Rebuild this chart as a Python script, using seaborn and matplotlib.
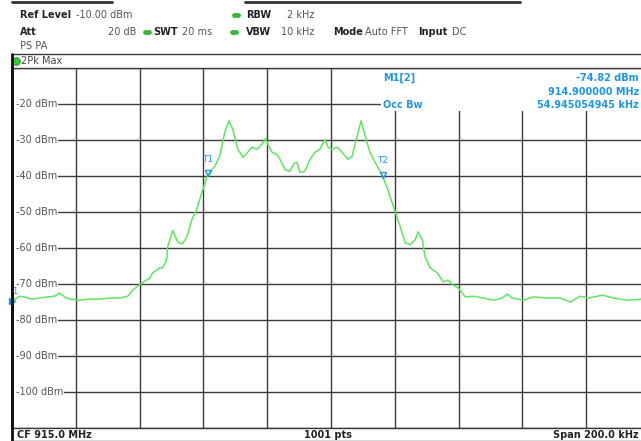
import matplotlib
matplotlib.use("Agg")
import matplotlib.pyplot as plt
import seaborn as sns
import pandas as pd
from matplotlib.lines import Line2D
from matplotlib.patches import Rectangle

# ---- data (frequency offset from CF 915.0 MHz in kHz, level in dBm) ----
offset_khz = [-100.0, -97.7, -96.1, -93.9, -91.4, -88.9, -86.7, -85.1, -83.5, -82.0,
              -78.8, -75.7, -72.5, -69.4, -66.3, -63.7, -62.2, -59.7, -56.8, -55.9,
              -53.7, -52.8, -51.5, -51.2, -49.6, -48.0, -46.5, -45.2, -43.6, -42.1,
              -40.5, -38.6, -36.4, -34.9, -33.3, -32.0, -30.8, -29.2, -27.6, -26.1,
              -24.8, -23.2, -21.7, -20.4, -19.8, -18.5, -17.0, -16.0, -14.4, -12.9,
              -11.6, -10.7, -9.7, -8.2, -6.6, -5.0, -3.5, -1.9, -0.9, 0.3,
              1.9, 3.5, 5.3, 6.6, 8.2, 9.4, 10.7, 12.2, 13.8, 15.4,
              16.3, 17.6, 18.5, 20.1, 21.7, 23.2, 24.8, 26.4, 27.3, 28.6,
              29.5, 31.1, 33.3, 35.2, 36.7, 38.3, 39.9, 42.1, 44.6, 47.7,
              50.9, 53.7, 55.3, 56.8, 60.3, 63.4, 67.8, 71.9, 75.0, 78.2,
              80.7, 85.1, 88.5, 92.9, 97.3, 100.0]
level_dbm = [-74.8, -73.4, -73.6, -74.2, -73.9, -73.6, -73.4, -72.5, -73.6, -74.2,
             -74.5, -74.2, -74.2, -73.9, -73.9, -73.4, -71.7, -70.0, -68.3, -66.9,
             -65.5, -65.5, -63.3, -59.6, -55.2, -58.5, -58.8, -56.9, -52.1, -49.3,
             -44.6, -39.6, -37.3, -34.5, -27.8, -24.7, -27.0, -32.6, -34.8, -33.4,
             -32.0, -32.6, -31.2, -29.5, -31.2, -33.4, -34.0, -35.4, -38.2, -38.7,
             -36.5, -36.2, -39.0, -38.7, -35.4, -33.4, -32.6, -29.8, -32.0, -32.6,
             -32.0, -33.4, -35.4, -34.5, -28.9, -24.7, -28.9, -33.4, -36.2, -38.7,
             -40.4, -43.2, -45.7, -49.9, -54.1, -58.5, -59.1, -57.7, -55.5, -57.7,
             -62.5, -65.5, -66.9, -69.4, -68.9, -70.3, -71.1, -73.6, -73.4, -73.9,
             -74.5, -73.9, -72.8, -73.9, -74.5, -73.6, -73.9, -73.9, -75.0, -73.4,
             -73.9, -73.1, -73.9, -74.5, -74.2, -73.9]

y_levels = [-20, -30, -40, -50, -60, -70, -80, -90, -100]
y_labels = ["-20 dBm", "-30 dBm", "-40 dBm", "-50 dBm", "-60 dBm",
            "-70 dBm", "-80 dBm", "-90 dBm", "-100 dBm"]
x_grid_khz = [-80, -60, -40, -20, 0, 20, 40, 60, 80]

t_khz = [-38.6, 16.3]
t_dbm = [-39.3, -39.6]
t_names = ["T1", "T2"]
m1_khz = -100.0
m1_dbm = -74.82

sns.set_style("white")
plt.rcParams["font.family"] = ["DejaVu Sans"]

W, H = 641, 441
fig = plt.figure(figsize=(W / 100, H / 100), dpi=100)
fig.patch.set_facecolor("white")


def fx(x):
    return x / W


def fy(y):
    return 1 - y / H


GRID = "#3a3a3a"
BLUE = "#2196e0"
GREEN = "#5ee65e"
TXT = "#444444"
FS = 7

# ---- main axes ----
AX_L, AX_R, AX_T, AX_B = 12, 650, 68, 428
ax = fig.add_axes([fx(AX_L), fy(AX_B), (AX_R - AX_L) / W, (AX_B - AX_T) / H])
ax.set_xlim(-100, 100)
ax.set_ylim(-110, -10)
ax.set_xticks([])
ax.set_yticks([])
ax.set_facecolor("white")
ax.spines["right"].set_visible(False)
ax.spines["left"].set_linewidth(2.0)
ax.spines["left"].set_color("#111111")
ax.spines["top"].set_color(GRID)
ax.spines["top"].set_linewidth(1.0)
ax.spines["bottom"].set_color(GRID)
ax.spines["bottom"].set_linewidth(1.0)

for xv in x_grid_khz:
    ax.axvline(xv, color=GRID, lw=1.0, zorder=1)

ytrans = ax.get_yaxis_transform()
label_objs = []
for yv, lab in zip(y_levels, y_labels):
    t = ax.text(0.006, yv, lab, transform=ytrans, ha="left", va="center",
                fontsize=FS, color="#555555", zorder=3)
    label_objs.append(t)

fig.canvas.draw()
renderer = fig.canvas.get_renderer()
axbb = ax.get_window_extent(renderer)
for yv, t in zip(y_levels, label_objs):
    bb = t.get_window_extent(renderer)
    xmin = (bb.x1 + 1 - axbb.x0) / axbb.width
    xmax = (380 - AX_L) / (AX_R - AX_L) if yv == -20 else 1.0
    ax.axhline(yv, xmin=xmin, xmax=xmax, color=GRID, lw=1.0, zorder=1)

# blank marker-info box that hides the grid in the upper right
ax.add_patch(Rectangle(((381 - AX_L) / (AX_R - AX_L), (AX_B - 111) / (AX_B - AX_T)),
                       (AX_R - 381) / (AX_R - AX_L), (111 - AX_T - 1) / (AX_B - AX_T),
                       transform=ax.transAxes, facecolor="white",
                       edgecolor="none", zorder=2))

# ---- trace ----
df = pd.DataFrame({"offset_khz": offset_khz, "level_dbm": level_dbm})
sns.lineplot(data=df, x="offset_khz", y="level_dbm", ax=ax, color=GREEN,
             lw=1.1, sort=False, estimator=None, legend=False, zorder=4)
ax.set_xlabel("")
ax.set_ylabel("")

# ---- markers ----
for k, d, n in zip(t_khz, t_dbm, t_names):
    ax.plot([k], [d], marker="v", ms=5, mfc="none", mec=BLUE, mew=1.0,
            ls="none", zorder=5)
    ax.annotate(n, (k, d), xytext=(0, 7), textcoords="offset points",
                ha="center", va="bottom", fontsize=6.5, color=BLUE, zorder=5)
ax.plot([m1_khz], [m1_dbm], marker=">", ms=4.5, color=BLUE, ls="none",
        zorder=5, clip_on=False)
ax.annotate("1", (m1_khz, m1_dbm), xytext=(2, 4), textcoords="offset points",
            ha="center", va="bottom", fontsize=6, color=BLUE, zorder=5)

# marker info (blue, at the right figure edge)
fig.text(fx(383), fy(78), "M1[2]", color=BLUE, fontsize=FS, fontweight="bold",
         va="center", ha="left")
fig.text(fx(639), fy(78), "-74.82 dBm", color=BLUE, fontsize=FS,
         fontweight="bold", va="center", ha="right")
fig.text(fx(639), fy(92), "914.900000 MHz", color=BLUE, fontsize=FS,
         fontweight="bold", va="center", ha="right")
fig.text(fx(383), fy(105), "Occ Bw", color=BLUE, fontsize=FS,
         fontweight="bold", va="center", ha="left")
fig.text(fx(639), fy(105), "54.945054945 kHz", color=BLUE, fontsize=FS,
         fontweight="bold", va="center", ha="right")

# ---- title bar ----
fig.add_artist(Rectangle((fx(12), fy(68)), (645 - 12) / W, (68 - 54) / H,
                         transform=fig.transFigure, facecolor="white",
                         edgecolor=GRID, lw=1.0))
fig.add_artist(Line2D([fx(16)], [fy(61)], marker="o", ms=5.5,
                      mfc="#33cc33", mec="#1a8a1a", mew=0.6,
                      transform=fig.transFigure))
fig.text(fx(21), fy(61), "2Pk Max", fontsize=FS, color=TXT, va="center")

# ---- bottom bar ----
fig.add_artist(Rectangle((fx(12), fy(441)), (645 - 12) / W, (441 - 428) / H,
                         transform=fig.transFigure, facecolor="white",
                         edgecolor=GRID, lw=1.0))
fig.text(fx(17), fy(434.5), "CF 915.0 MHz", fontsize=FS, color="#222222",
         fontweight="bold", va="center")
fig.text(fx(304), fy(434.5), "1001 pts", fontsize=FS, color="#222222",
         fontweight="bold", va="center")
fig.text(fx(639), fy(434.5), "Span 200.0 kHz", fontsize=FS, color="#222222",
         fontweight="bold", va="center", ha="right")

# left frame line
fig.add_artist(Line2D([fx(11.5), fx(11.5)], [fy(54), fy(441)], color="#111111",
                      lw=2.0, transform=fig.transFigure))

# ---- header ----
fig.add_artist(Line2D([fx(12), fx(112)], [fy(1.5), fy(1.5)], color="#333333",
                      lw=2.0, transform=fig.transFigure))
fig.add_artist(Line2D([fx(245), fx(520)], [fy(1.5), fy(1.5)], color="#333333",
                      lw=2.0, transform=fig.transFigure))


def hdr(x, y, s, bold=False):
    fig.text(fx(x), fy(y), s, fontsize=FS, va="center", ha="left",
             color="#222222" if bold else "#555555",
             fontweight="bold" if bold else "normal")


def dot(x, y):
    fig.add_artist(Line2D([fx(x - 2), fx(x + 2)], [fy(y), fy(y)], lw=3.5,
                          color="#33bb33", solid_capstyle="round",
                          transform=fig.transFigure))


hdr(20, 15, "Ref Level", True)
hdr(76, 15, "-10.00 dBm")
dot(236, 15)
hdr(246, 15, "RBW", True)
hdr(287, 15, "2 kHz")

hdr(20, 32, "Att", True)
hdr(108, 32, "20 dB")
dot(147, 32)
hdr(153, 32, "SWT", True)
hdr(182, 32, "20 ms")
dot(234, 32)
hdr(246, 32, "VBW", True)
hdr(281, 32, "10 kHz")
hdr(333, 32, "Mode", True)
hdr(365, 32, "Auto FFT")
hdr(418, 32, "Input", True)
hdr(452, 32, "DC")

hdr(20, 46, "PS PA")

fig.savefig("out.png", dpi=100, facecolor="white")
